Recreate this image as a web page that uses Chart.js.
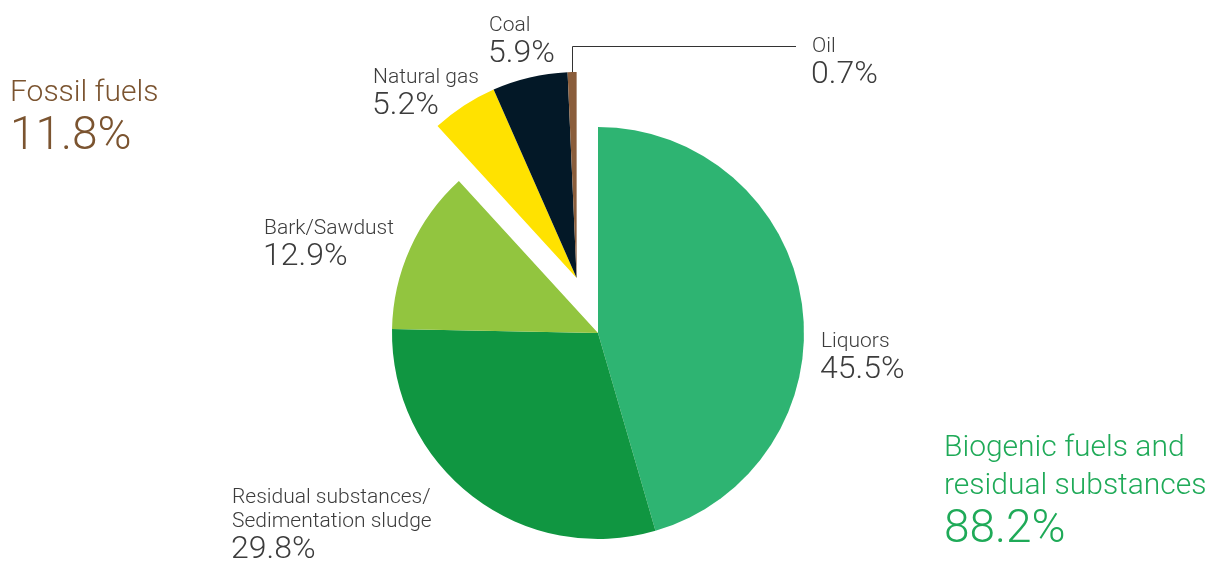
<!DOCTYPE html>
<html>
<head>
<meta charset="utf-8">
<title>Fuel mix</title>
<script src="https://cdn.jsdelivr.net/npm/chart.js@4"></script>
<style>
  body { margin: 0; background: #fff; }
  canvas { display: block; }
</style>
</head>
<body>
<canvas id="fuelChart" width="1212" height="565"></canvas>
<script>
// fuel shares in percent, clockwise from 12 o'clock
const fuels = ['Liquors', 'Residual substances/\nSedimentation sludge', 'Bark/Sawdust', 'Natural gas', 'Coal', 'Oil'];
const shares = [45.5, 29.8, 12.9, 5.2, 5.9, 0.7];
const isFossil = [false, false, false, true, true, true];
const colors = ['#2eb472', '#109641', '#92c53f', '#ffe200', '#031827', '#8a5d3b'];

const groups = ['Fossil fuels', 'Biogenic fuels and\nresidual substances'];
const groupShares = [11.8, 88.2];
const groupColors = ['#7b5430', '#1faa58'];

// where each slice label sits: [x, baseline of first line]
const labelPos = [[821, 347], [232, 503], [264, 234], [373, 83], [489, 31], [812, 52]];
const groupPos = [[10, 101], [944, 456]];

const FONT = '"Roboto", "Liberation Sans", sans-serif';
const explodeGap = 59;

const fmt = v => v.toFixed(1) + '%';

// push the fossil slices out together, along the middle of their combined angle
const explodeFossil = {
  id: 'explodeFossil',
  afterDatasetsUpdate(chart) {
    const arcs = chart.getDatasetMeta(0).data;
    const group = arcs.filter((a, i) => isFossil[i]);
    if (!group.length) return;
    const mid = (group[0].startAngle + group[group.length - 1].endAngle) / 2;
    group.forEach(a => {
      a.x += Math.cos(mid) * explodeGap;
      a.y += Math.sin(mid) * explodeGap;
    });
  }
};

const sliceLabels = {
  id: 'sliceLabels',
  afterDraw(chart) {
    const ctx = chart.ctx;
    const arcs = chart.getDatasetMeta(0).data;
    ctx.save();
    ctx.textAlign = 'left';
    ctx.textBaseline = 'alphabetic';

    fuels.forEach((name, i) => {
      const [x, y] = labelPos[i];
      const lines = name.split('\n');
      ctx.fillStyle = '#3c3c3c';
      ctx.font = '300 21px ' + FONT;
      lines.forEach((ln, k) => ctx.fillText(ln, x, y + k * 24));
      ctx.font = '300 32px ' + FONT;
      ctx.fillText(fmt(shares[i]), x - 1, y + (lines.length - 1) * 24 + 31);
    });

    // leader line for the thin oil slice
    const oil = arcs[fuels.length - 1];
    const a = (oil.startAngle + oil.endAngle) / 2;
    const sx = oil.x + Math.cos(a) * oil.outerRadius;
    const sy = oil.y + Math.sin(a) * oil.outerRadius;
    ctx.strokeStyle = '#333';
    ctx.lineWidth = 1;
    ctx.beginPath();
    ctx.moveTo(Math.round(sx) + 0.5, sy);
    ctx.lineTo(Math.round(sx) + 0.5, 46.5);
    ctx.lineTo(796, 46.5);
    ctx.stroke();

    // group totals
    groups.forEach((name, i) => {
      const [x, y] = groupPos[i];
      const lines = name.split('\n');
      ctx.fillStyle = groupColors[i];
      ctx.font = '300 30px ' + FONT;
      lines.forEach((ln, k) => ctx.fillText(ln, x, y + k * 38));
      ctx.font = '300 46px ' + FONT;
      ctx.fillText(fmt(groupShares[i]), x, y + (lines.length - 1) * 38 + 48);
    });
    ctx.restore();
  }
};

new Chart(document.getElementById('fuelChart'), {
  type: 'pie',
  data: {
    labels: fuels,
    datasets: [{
      data: shares,
      backgroundColor: colors,
      borderWidth: 0
    }]
  },
  options: {
    responsive: false,
    animation: false,
    layout: { padding: { left: 392, right: 408, top: 127, bottom: 26 } },
    plugins: {
      legend: { display: false },
      tooltip: { enabled: false }
    }
  },
  plugins: [explodeFossil, sliceLabels]
});
</script>
</body>
</html>
